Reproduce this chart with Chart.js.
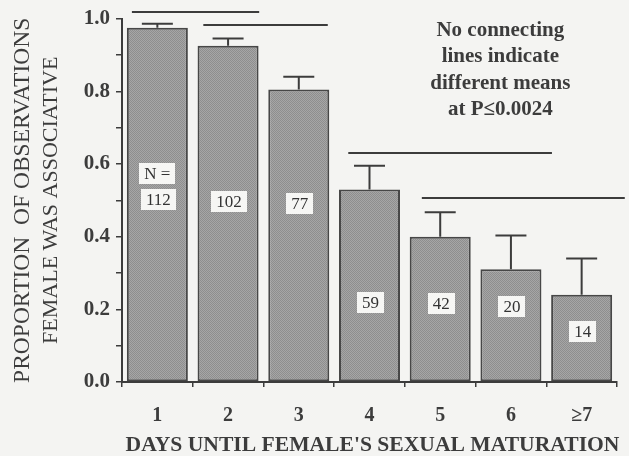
<!DOCTYPE html>
<html>
<head>
<meta charset="utf-8">
<script src="https://cdn.jsdelivr.net/npm/chart.js@4.4.0/dist/chart.umd.min.js"></script>
<style>
  html, body { margin: 0; padding: 0; background: #f4f4f2; }
  canvas { display: block; }
</style>
</head>
<body>
<canvas id="chart" width="629" height="456"></canvas>
<script>
// Days until the female's sexual maturation
const days = ['1', '2', '3', '4', '5', '6', '≥7'];
// Mean proportion of observations in which the female was associative
const proportionAssociative = [0.975, 0.925, 0.805, 0.53, 0.40, 0.31, 0.24];
// Standard error of each mean (upper half drawn)
const standardError = [0.011, 0.02, 0.035, 0.065, 0.067, 0.093, 0.10];
// Number of observations per group
const sampleSizes = [112, 102, 77, 59, 42, 20, 14];
// Groups whose means do not differ (first and last category index)
const sameMeanGroups = [[0, 1], [1, 2], [3, 5], [4, 6]];
// Axis ticks
const yMin = 0, yMax = 1, yStep = 0.1;
// Axis titles
const xTitle = "DAYS UNTIL FEMALE'S SEXUAL MATURATION";
const yTitle = ['PROPORTION  OF OBSERVATIONS', 'FEMALE WAS ASSOCIATIVE'];

const INK = '#3c3c3c';
const SERIF = '"Liberation Serif", "Times New Roman", serif';

// Fine two-tone stipple used as the bar fill
function stipple() {
  const c = document.createElement('canvas');
  c.width = 2; c.height = 2;
  const g = c.getContext('2d');
  g.fillStyle = '#a6a6a6'; g.fillRect(0, 0, 2, 2);
  g.fillStyle = '#8e8e8e'; g.fillRect(0, 0, 1, 1); g.fillRect(1, 1, 1, 1);
  return g.createPattern(c, 'repeat');
}

// Error bars, sample-size boxes, connecting lines, the note and the axis titles
const overlay = {
  id: 'overlay',
  afterDatasetsDraw(chart, args, opts) {
    const { ctx, chartArea, scales: { x, y } } = chart;
    const meta = chart.getDatasetMeta(0);
    ctx.save();
    ctx.strokeStyle = INK;
    ctx.lineWidth = 2;

    // upper error bars
    meta.data.forEach((bar, i) => {
      const top = y.getPixelForValue(proportionAssociative[i] + standardError[i]);
      ctx.beginPath();
      ctx.moveTo(bar.x, bar.y);
      ctx.lineTo(bar.x, top);
      ctx.moveTo(bar.x - opts.capHalf, top);
      ctx.lineTo(bar.x + opts.capHalf, top);
      ctx.stroke();
    });

    // lines joining means that are not different
    sameMeanGroups.forEach(([a, b], k) => {
      const l = opts.groupLines[k];
      const py = Math.round(y.getPixelForValue(l.level));
      ctx.beginPath();
      ctx.moveTo(x.getPixelForValue(a + l.start), py);
      ctx.lineTo(x.getPixelForValue(b + l.end), py);
      ctx.stroke();
    });

    // sample sizes in white boxes
    ctx.font = '17px ' + SERIF;
    ctx.textAlign = 'center';
    ctx.textBaseline = 'middle';
    const box = (text, cx, cy) => {
      const w = ctx.measureText(text).width + 10;
      ctx.fillStyle = '#f6f6f4';
      ctx.fillRect(Math.round(cx - w / 2), Math.round(cy - 10.5), Math.round(w), 21);
      ctx.fillStyle = '#333';
      ctx.fillText(text, cx, cy + 1);
    };
    meta.data.forEach((bar, i) => {
      const cy = y.getPixelForValue(opts.sizeLevels[i]);
      if (i === 0) box('N =', bar.x, cy - 25.5);
      box(String(sampleSizes[i]), bar.x + 1, cy);
    });

    // note
    ctx.font = 'bold 21px ' + SERIF;
    ctx.fillStyle = INK;
    const nx = x.getPixelForValue(opts.noteAt);
    opts.note.forEach((line, i) => {
      ctx.fillText(line, nx, chartArea.top + 12 + i * 26.3);
    });

    // two-line y axis title
    const cy = (chartArea.top + chartArea.bottom) / 2;
    yTitle.forEach((line, i) => {
      ctx.save();
      ctx.translate(opts.yTitleX[i], cy);
      ctx.rotate(-Math.PI / 2);
      ctx.font = opts.yTitleSize[i] + 'px ' + SERIF;
      ctx.fillText(line, 0, 0);
      ctx.restore();
    });

    // x axis title, a little right of the plot centre
    ctx.font = 'bold 21.6px ' + SERIF;
    ctx.fillText(xTitle, (chartArea.left + chartArea.right) / 2 + 3, x.bottom - 11);
    ctx.restore();
  }
};

new Chart(document.getElementById('chart'), {
  type: 'bar',
  data: {
    labels: days,
    datasets: [{
      data: proportionAssociative,
      backgroundColor: stipple(),
      borderColor: '#474747',
      borderWidth: 2,
      borderSkipped: false,
      categoryPercentage: 1,
      barPercentage: 0.863
    }]
  },
  options: {
    responsive: false,
    animation: false,
    layout: { padding: { top: 16, right: 12, bottom: 0, left: 0 } },
    plugins: {
      legend: { display: false },
      tooltip: { enabled: false },
      overlay: {
        capHalf: 15.5,
        sizeLevels: [0.503, 0.497, 0.492, 0.22, 0.217, 0.208, 0.138],
        groupLines: [
          { start: -0.36, end: 0.44, level: 1.018 },
          { start: -0.35, end: 0.41, level: 0.982 },
          { start: -0.30, end: 0.58, level: 0.631 },
          { start: -0.26, end: 0.61, level: 0.505 }
        ],
        noteAt: 4.85,
        note: ['No connecting', 'lines indicate', 'different means', 'at P\u22640.0024'],
        yTitleX: [22.5, 51],
        yTitleSize: [23.5, 22]
      }
    },
    scales: {
      x: {
        afterFit(s) { s.height = 74; },
        grid: { drawOnChartArea: false, drawTicks: true, tickLength: 5, color: INK, lineWidth: 1.5 },
        border: { display: true, color: INK, width: 2 },
        ticks: { color: INK, padding: 17, font: { family: SERIF, size: 20, weight: 'bold' } },
        title: { display: false }
      },
      y: {
        min: yMin,
        max: yMax,
        afterFit(s) { s.width = 122; },
        grid: { drawOnChartArea: false, drawTicks: true, tickLength: 6, color: INK, lineWidth: 1.5 },
        border: { display: true, color: INK, width: 2 },
        ticks: {
          stepSize: yStep,
          color: INK,
          padding: 6,
          font: { family: SERIF, size: 21, weight: 'bold' },
          callback: (v, i) => (i % 2 === 0 ? Number(v).toFixed(1) : '')
        },
        title: { display: false }
      }
    }
  },
  plugins: [overlay]
});
</script>
</body>
</html>
